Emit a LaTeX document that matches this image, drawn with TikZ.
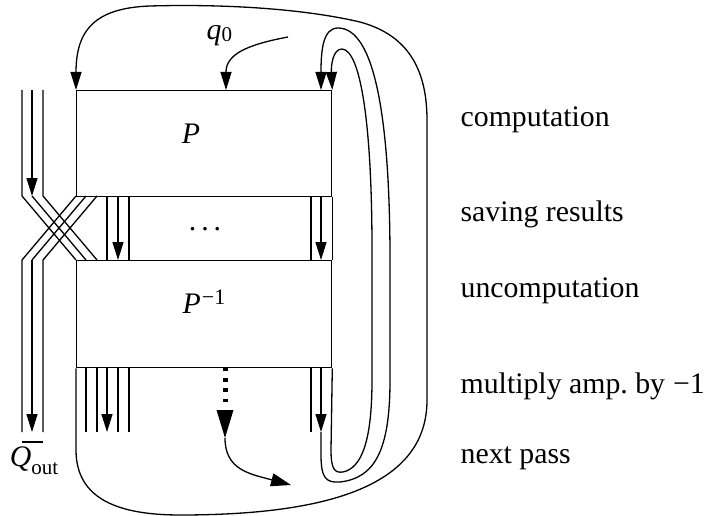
\documentclass[tikz,border=0pt]{standalone}
\usepackage{fontspec}
\setmainfont{Liberation Serif}
\usetikzlibrary{arrows.meta}
\begin{document}
\begin{tikzpicture}[x=1pt,y=-1pt,line width=1.3pt,
  tip/.style={-{Triangle[length=18pt,width=11pt]}},
  passtip/.style={-{Triangle[length=20pt,width=13pt]}},
  gate/.style={draw,inner sep=0pt,anchor=north west,minimum width=255pt},
  txt/.style={inner sep=0pt,font=\fontsize{29.8}{36}\selectfont},
  side/.style={txt,anchor=base west}]
\useasboundingbox (0,0) rectangle (704,516);

% the two blocks
\node[gate,minimum height=106pt] (P) at (76,90) {};
\node[gate,minimum height=107pt] (Pinv) at (76,260) {};
\draw (P.south east) -- (Pinv.north east);

\node[txt,anchor=base] (Plbl) at (191,143) {\textit{P}};
\node[txt,anchor=base west] (Pinvlbl) at (182,313)
  {\textit{P}\hspace{1pt}\raisebox{9pt}{\fontsize{22}{22}\selectfont −1}};
\node[txt,anchor=base] (dots) at (205,230) {.\hspace{5pt}.\hspace{5pt}.};

% input wires on the left, crossing into the second block
\foreach \i/\x/\y in {1/22/76,2/32/86,3/43/97} {
  \coordinate (t\i) at (\x,90);
  \coordinate (b\i) at (\x,196);
  \coordinate (c\i) at (\y,260);
  \coordinate (s\i) at (\y,196);
  \coordinate (d\i) at (\x,260);
  \coordinate (e\i) at (\x,432);
}
\draw (t1) -- (b1) -- (c1);
\draw[tip] (t2) -- (b2);
\draw (b2) -- (c2);
\draw (t3) -- (b3) -- (c3);
\draw (s1) -- (d1) -- (e1);
\draw (s2) -- (d2);
\draw[tip] (d2) -- (e2);
\draw (s3) -- (d3) -- (e3);

% closing bar and output label
\coordinate (bar1) at (22,442);
\coordinate (bar2) at (43,442);
\draw (bar1) -- (bar2);
\node[txt,anchor=base] (Qout) at (34,466)
  {\textit{Q}\raisebox{-8pt}{\fontsize{21}{21}\selectfont out}};

% saved result wires between the blocks
\foreach \x in {107,118,129,311,321} {
  \coordinate (mu\x) at (\x,196);
  \coordinate (md\x) at (\x,260);
}
\draw (mu107) -- (md107);
\draw[tip] (mu118) -- (md118);
\draw (mu129) -- (md129);
\draw (mu311) -- (md311);
\draw[tip] (mu321) -- (md321);

% wires leaving the second block
\foreach \x in {86,97,107,118,129,311,321} {
  \coordinate (lu\x) at (\x,367);
  \coordinate (ld\x) at (\x,432);
}
\foreach \x in {86,97,118,129,311} { \draw (lu\x) -- (ld\x); }
\draw[tip] (lu107) -- (ld107);
\draw[tip] (lu321) -- (ld321);

% phase flip marker
\coordinate (flipA) at (225,367);
\coordinate (flipB) at (225,402);
\draw[line width=5pt,dash pattern=on 4pt off 6.5pt] (flipA) -- (flipB);
\coordinate (headL) at (216.5,410);
\coordinate (headR) at (233.5,410);
\coordinate (headT) at (225,438);
\fill (headL) -- (headR) -- (headT) -- cycle;
\coordinate (passEnd) at (291,485);
\draw[passtip] (headT) .. controls (225,470) and (250,474) .. (passEnd);

% q0 input
\coordinate (qStart) at (288,37);
\coordinate (qIn) at (226,90);
\draw[tip] (qStart) .. controls (245,45) and (226,55) .. (qIn);
\node[txt,anchor=base west] (q0) at (206,40)
  {\textit{q}\raisebox{-2pt}{\fontsize{21}{21}\selectfont 0}};

% feedback loops on the right
\coordinate (midTop) at (321,90);
\draw[tip] (ld321) -- (321,455) .. controls (321,478) and (326,483) .. (340,482)
  .. controls (375,478) and (390,450) .. (390,380) -- (390,260)
  .. controls (390,120) and (375,28) .. (338,28)
  .. controls (323,28) and (321,50) .. (midTop);
\draw[tip] (Pinv.south east) -- (331,450) .. controls (331,470) and (335,473) .. (343,472)
  .. controls (362,468) and (372,440) .. (372,380) -- (372,250)
  .. controls (372,120) and (360,50) .. (342,49)
  .. controls (333,49) and (331,65) .. (P.north east);

% outer loop back to the start
\draw[tip] (Pinv.south west) -- (76,450) .. controls (76,500) and (120,515) .. (180,515)
  .. controls (330,515) and (427,485) .. (427,400) -- (427,120)
  .. controls (427,60) and (400,33) .. (360,22)
  .. controls (300,8) and (220,4) .. (150,6)
  .. controls (95,8) and (76,30) .. (P.north west);

% stage descriptions
\node[side] (l1) at (460,127) {computation};
\node[side] (l2) at (460,221) {saving results};
\node[side] (l3) at (460,297) {uncomputation};
\node[side] (l4) at (460,393) {multiply amp.\ by\hspace{8pt}−1};
\node[side] (l5) at (460,463) {next pass};
\end{tikzpicture}
\end{document}
